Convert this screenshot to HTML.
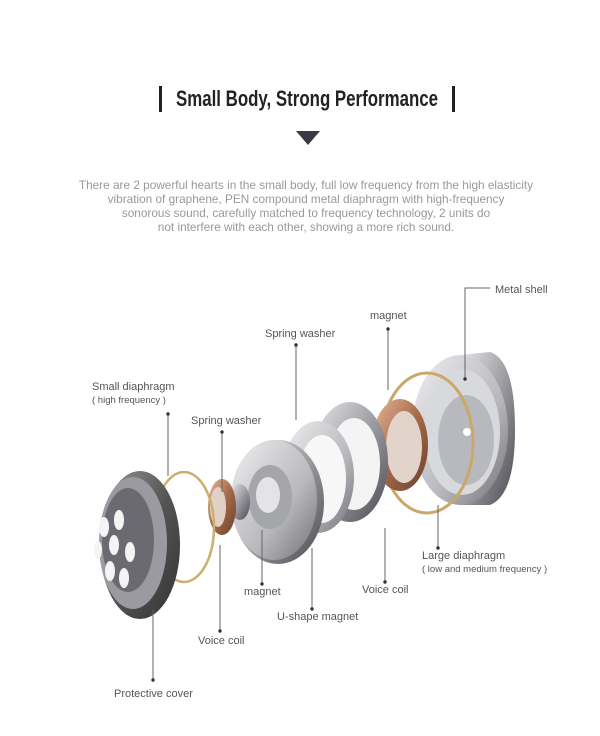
<!DOCTYPE html>
<html><head><meta charset="utf-8"><style>
html,body{margin:0;padding:0;background:#fff;}
body{width:600px;height:736px;position:relative;overflow:hidden;font-family:"Liberation Sans",sans-serif;}
.t{position:absolute;color:#555;font-size:11px;white-space:nowrap;}
</style></head><body>
<svg width="600" height="736" style="position:absolute;left:0;top:0">
<defs>
<linearGradient id="m1" x1="0" y1="0" x2="1" y2="1"><stop offset="0" stop-color="#e8e8ea"/><stop offset=".5" stop-color="#9a9aa0"/><stop offset="1" stop-color="#4a4a50"/></linearGradient>
<linearGradient id="m2" x1="0" y1="0" x2="1" y2="1"><stop offset="0" stop-color="#f0f0f2"/><stop offset=".6" stop-color="#b8b8bd"/><stop offset="1" stop-color="#707075"/></linearGradient>
<linearGradient id="dk" x1="0" y1="0" x2="1" y2="1"><stop offset="0" stop-color="#999"/><stop offset=".5" stop-color="#555"/><stop offset="1" stop-color="#333"/></linearGradient>
<linearGradient id="cu" x1="0" y1="0" x2="1" y2="1"><stop offset="0" stop-color="#e7b99a"/><stop offset=".5" stop-color="#a46a4a"/><stop offset="1" stop-color="#6a3f2a"/></linearGradient>
</defs>
<rect x="159" y="86" width="3" height="26" fill="#222"/>
<rect x="452" y="86" width="3" height="26" fill="#222"/>
<text x="307" y="106" text-anchor="middle" font-family="Liberation Sans Narrow, Liberation Sans, sans-serif" font-size="22" font-weight="bold" fill="#222" textLength="262" lengthAdjust="spacingAndGlyphs">Small Body, Strong Performance</text>
<polygon points="296,131 320,131 308,145" fill="#3a3a44"/>
<path d="M460,355 L490,352 Q515,360 515,430 Q515,495 490,505 L460,505 Z" fill="url(#m1)"/>
<ellipse cx="460" cy="430" rx="48" ry="75" fill="url(#m2)"/>
<ellipse cx="462" cy="432" rx="38" ry="63" fill="#d8d9dc"/>
<ellipse cx="466" cy="440" rx="28" ry="45" fill="#b8b9be"/>
<circle cx="467" cy="432" r="4" fill="#fff"/>
<ellipse cx="427" cy="443" rx="46" ry="70" fill="none" stroke="#c9a86a" stroke-width="3"/>
<ellipse cx="400" cy="445" rx="28" ry="46" fill="url(#cu)"/>
<ellipse cx="404" cy="447" rx="18" ry="36" fill="#e2d4ca"/>
<ellipse cx="350" cy="462" rx="38" ry="60" fill="url(#m1)"/>
<ellipse cx="354" cy="464" rx="26" ry="46" fill="#f4f4f5"/>
<ellipse cx="318" cy="477" rx="36" ry="56" fill="url(#m2)"/>
<ellipse cx="322" cy="479" rx="24" ry="44" fill="#f7f7f7"/>
<ellipse cx="278" cy="502" rx="46" ry="62" fill="url(#m1)"/>
<ellipse cx="274" cy="500" rx="43" ry="60" fill="url(#m2)"/>
<ellipse cx="270" cy="497" rx="22" ry="32" fill="#a5a6aa"/>
<ellipse cx="268" cy="495" rx="12" ry="18" fill="#e4e4e6"/>
<ellipse cx="240" cy="502" rx="10" ry="18" fill="url(#m1)"/>
<ellipse cx="222" cy="507" rx="14" ry="28" fill="url(#cu)"/>
<ellipse cx="218" cy="507" rx="8" ry="20" fill="#e0d0c6"/>
<ellipse cx="184" cy="527" rx="30" ry="55" fill="none" stroke="#c9b070" stroke-width="2.5"/>
<ellipse cx="140" cy="545" rx="40" ry="74" fill="url(#dk)"/>
<ellipse cx="133" cy="543" rx="34" ry="66" fill="#9a9aa0"/>
<ellipse cx="128" cy="540" rx="26" ry="52" fill="#6a6a70"/>
<g fill="#f4f4f4"><ellipse cx="104" cy="527" rx="5" ry="10"/><ellipse cx="119" cy="520" rx="5" ry="10"/><ellipse cx="114" cy="545" rx="5" ry="10"/><ellipse cx="130" cy="552" rx="5" ry="10"/><ellipse cx="110" cy="571" rx="5" ry="10"/><ellipse cx="124" cy="578" rx="5" ry="10"/><ellipse cx="98" cy="550" rx="4" ry="9"/></g>
<g stroke="#666" stroke-width="1" fill="none">
<path d="M490,288 H465 V379"/>
<path d="M388,329 V390"/>
<path d="M296,345 V420"/>
<path d="M168,414 V476"/>
<path d="M222,432 V492"/>
<path d="M262,530 V584"/>
<path d="M312,548 V609"/>
<path d="M385,528 V582"/>
<path d="M438,505 V548"/>
<path d="M220,545 V631"/>
<path d="M153,610 V680"/>
</g>
<g fill="#333"><circle cx="465" cy="379" r="1.7"/><circle cx="388" cy="329" r="1.7"/><circle cx="296" cy="345" r="1.7"/><circle cx="168" cy="414" r="1.7"/><circle cx="222" cy="432" r="1.7"/><circle cx="262" cy="584" r="1.7"/><circle cx="312" cy="609" r="1.7"/><circle cx="385" cy="582" r="1.7"/><circle cx="438" cy="548" r="1.7"/><circle cx="220" cy="631" r="1.7"/><circle cx="153" cy="680" r="1.7"/></g>
</svg>
<div style="position:absolute;left:0;width:612px;top:178px;text-align:center;color:#999;font-size:11.8px;line-height:14px">There are 2 powerful hearts in the small body, full low frequency from the high elasticity<br>vibration of graphene, PEN compound metal diaphragm with high-frequency<br>sonorous sound, carefully matched to frequency technology, 2 units do<br>not interfere with each other, showing a more rich sound.</div>
<div class="t" style="left:495px;top:284px">Metal shell</div>
<div class="t" style="left:370px;top:310px">magnet</div>
<div class="t" style="left:265px;top:328px">Spring washer</div>
<div class="t" style="left:92px;top:381px">Small diaphragm</div>
<div class="t" style="left:92px;top:395px;font-size:9.5px">( high frequency )</div>
<div class="t" style="left:191px;top:415px">Spring washer</div>
<div class="t" style="left:244px;top:586px">magnet</div>
<div class="t" style="left:277px;top:611px">U-shape magnet</div>
<div class="t" style="left:362px;top:584px">Voice coil</div>
<div class="t" style="left:422px;top:550px">Large diaphragm</div>
<div class="t" style="left:422px;top:564px;font-size:9.5px">( low and medium frequency )</div>
<div class="t" style="left:198px;top:635px">Voice coil</div>
<div class="t" style="left:114px;top:688px">Protective cover</div>
</body></html>
